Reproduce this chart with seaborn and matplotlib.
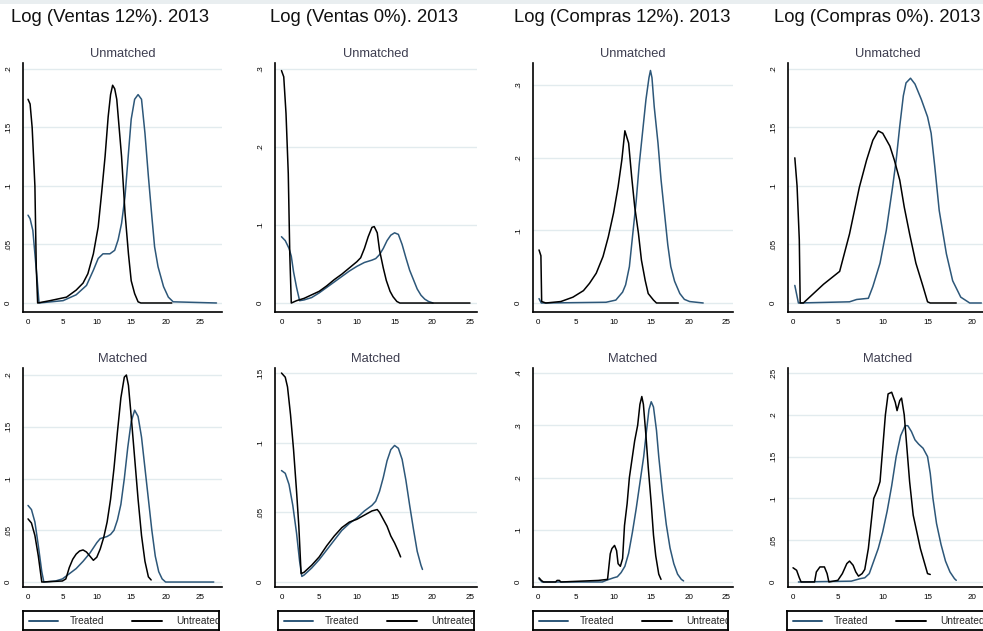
import matplotlib
matplotlib.use("Agg")
import matplotlib.pyplot as plt
import seaborn as sns
from matplotlib.patches import Rectangle
from matplotlib.lines import Line2D

# ---------------------------------------------------------------- data
col_titles = ["Log (Ventas 12%). 2013", "Log (Ventas 0%). 2013",
              "Log (Compras 12%). 2013", "Log (Compras 0%). 2013"]
row_titles = ["Unmatched", "Matched"]
legend_labels = ["Treated", "Untreated"]

x_ticks = [[0, 5, 10, 15, 20, 25], [0, 5, 10, 15, 20, 25],
           [0, 5, 10, 15, 20, 25], [0, 5, 10, 15, 20]]
y_ticks_unmatched = [[0, .05, .1, .15, .2], [0, .1, .2, .3],
                     [0, .1, .2, .3], [0, .05, .1, .15, .2]]
y_ticks_matched = [[0, .05, .1, .15, .2], [0, .05, .1, .15],
                   [0, .1, .2, .3, .4], [0, .05, .1, .15, .2, .25]]

# Ventas 12%, unmatched
v12_u_treated_x = [0, 0.3, 0.7, 1.0, 1.3, 1.6, 5.1, 7.0, 8.5, 9.5, 10.2, 10.9, 11.9, 12.6, 13.1,
                   13.6, 14.1, 14.6, 15.0, 15.5, 16.0, 16.5, 17.0, 17.5, 18.0, 18.4, 18.9, 19.7,
                   20.4, 21.1, 27.4]
v12_u_treated_y = [0.075, 0.072, 0.062, 0.042, 0.022, 0.0, 0.002, 0.007, 0.015, 0.028, 0.038, 0.042,
                   0.042, 0.045, 0.054, 0.068, 0.091, 0.128, 0.157, 0.174, 0.178, 0.174, 0.145,
                   0.108, 0.074, 0.048, 0.031, 0.014, 0.005, 0.001, 0.0]
v12_u_untreated_x = [0, 0.3, 0.6, 1.0, 1.2, 1.4, 3.2, 5.6, 7.0, 8.0, 8.7, 9.5, 10.2, 10.7, 11.2,
                     11.65, 12.0, 12.3, 12.6, 12.9, 13.4, 13.6, 14.1, 14.6, 15.0, 15.5, 16.0, 16.4,
                     20.9]
v12_u_untreated_y = [0.174, 0.17, 0.15, 0.10, 0.03, 0.0, 0.002, 0.005, 0.011, 0.017, 0.025, 0.042,
                     0.065, 0.094, 0.125, 0.159, 0.178, 0.186, 0.183, 0.174, 0.139, 0.125, 0.077,
                     0.042, 0.019, 0.008, 0.001, 0.0, 0.0]

# Ventas 0%, unmatched
v0_u_treated_x = [0, 0.5, 1.0, 1.3, 1.6, 2.0, 2.4, 3, 4, 5, 6, 7, 8, 9, 10, 11, 12, 12.5, 13, 13.5,
                  14, 14.5, 15, 15.5, 16, 16.5, 17, 17.5, 18, 18.5, 19, 19.5, 20.1]
v0_u_treated_y = [0.085, 0.08, 0.07, 0.06, 0.04, 0.02, 0.003, 0.004, 0.007, 0.013, 0.02, 0.027,
                  0.034, 0.041, 0.047, 0.052, 0.055, 0.057, 0.062, 0.07, 0.08, 0.087, 0.09, 0.088,
                  0.075, 0.058, 0.042, 0.03, 0.018, 0.01, 0.005, 0.002, 0.0]
v0_u_untreated_x = [0, 0.3, 0.6, 0.9, 1.1, 1.3, 2, 3, 5, 6, 7, 8, 9, 10, 10.5, 11, 11.5, 12, 12.3,
                    12.7, 13.0, 13.5, 13.9, 14.4, 14.8, 15.3, 15.7, 25.0]
v0_u_untreated_y = [0.298, 0.29, 0.243, 0.166, 0.063, 0.0, 0.003, 0.006, 0.015, 0.022, 0.03, 0.037,
                    0.045, 0.053, 0.058, 0.07, 0.085, 0.097, 0.098, 0.09, 0.068, 0.045, 0.029,
                    0.015, 0.008, 0.002, 0.0, 0.0]

# Compras 12%, unmatched
c12_u_treated_x = [0.1, 0.4, 1, 9.0, 10.3, 11.2, 11.6, 12.1, 12.5, 13.0, 13.4, 13.9, 14.3, 14.7,
                   14.9, 15.1, 15.4, 15.9, 16.3, 16.8, 17.2, 17.6, 18.1, 18.8, 19.4, 20.1, 21.9]
c12_u_treated_y = [0.006, 0.0, 0.0, 0.001, 0.004, 0.015, 0.025, 0.05, 0.09, 0.14, 0.19, 0.24, 0.28,
                   0.31, 0.32, 0.31, 0.27, 0.22, 0.17, 0.12, 0.08, 0.05, 0.03, 0.013, 0.005, 0.002,
                   0.0]
c12_u_untreated_x = [0.1, 0.35, 0.45, 1.0, 3.0, 4.6, 6.0, 6.8, 7.7, 8.6, 9.3, 10.0, 10.6, 11.1, 11.5,
                     12.0, 12.4, 12.8, 13.3, 13.7, 14.2, 14.6, 15.3, 15.7, 18.6]
c12_u_untreated_y = [0.073, 0.065, 0.002, 0.0, 0.002, 0.008, 0.017, 0.027, 0.041, 0.064, 0.091,
                     0.124, 0.16, 0.197, 0.237, 0.22, 0.174, 0.133, 0.096, 0.059, 0.031, 0.013,
                     0.004, 0.0, 0.0]

# Compras 0%, unmatched
c0_u_treated_x = [0.2, 0.6, 6.3, 7.1, 8.4, 8.9, 9.7, 10.4, 11.1, 11.5, 11.9, 12.3, 12.6, 13.1, 13.6,
                  14.3, 15.0, 15.4, 15.8, 16.3, 17.1, 17.8, 18.7, 19.7, 21.0]
c0_u_treated_y = [0.015, 0.0, 0.001, 0.003, 0.004, 0.014, 0.034, 0.062, 0.099, 0.122, 0.151, 0.177,
                  0.188, 0.192, 0.187, 0.174, 0.159, 0.145, 0.117, 0.079, 0.042, 0.019, 0.005, 0.0,
                  0.0]
c0_u_untreated_x = [0.2, 0.45, 0.7, 0.8, 1.15, 3.4, 5.2, 6.3, 7.4, 8.2, 8.9, 9.5, 10.0, 10.8, 11.3,
                    11.9, 12.4, 13.0, 13.7, 14.5, 15.0, 15.3, 18.2]
c0_u_untreated_y = [0.124, 0.1, 0.054, 0.0, 0.0, 0.016, 0.027, 0.059, 0.099, 0.122, 0.139, 0.147,
                    0.145, 0.134, 0.122, 0.105, 0.082, 0.059, 0.034, 0.014, 0.001, 0.0, 0.0]

# Ventas 12%, matched
v12_m_treated_x = [0, 0.5, 1.0, 1.5, 2.0, 2.3, 4, 5, 6, 7, 8, 9, 10, 10.5, 11, 11.5, 12, 12.5, 13,
                   13.5, 14, 14.5, 15, 15.5, 16, 16.5, 17, 17.5, 18, 18.5, 19, 19.5, 20, 27]
v12_m_treated_y = [0.074, 0.07, 0.058, 0.035, 0.01, 0.0, 0.001, 0.003, 0.008, 0.013, 0.02, 0.028,
                   0.038, 0.042, 0.043, 0.044, 0.046, 0.05, 0.06, 0.075, 0.1, 0.13, 0.155, 0.166,
                   0.16, 0.14, 0.11, 0.08, 0.05, 0.025, 0.01, 0.003, 0.0, 0.0]
v12_m_untreated_x = [0, 0.5, 1.0, 1.5, 2.0, 5.0, 5.5, 6.0, 6.5, 7.0, 7.5, 8.0, 8.5, 9.0, 9.5, 10.0,
                     10.5, 11.0, 11.5, 12.0, 12.5, 13.0, 13.5, 14.0, 14.3, 14.6, 15.0, 15.5, 16.0,
                     16.5, 17.0, 17.5, 17.9]
v12_m_untreated_y = [0.061, 0.057, 0.045, 0.025, 0.0, 0.001, 0.003, 0.014, 0.022, 0.027, 0.03,
                     0.031, 0.029, 0.025, 0.021, 0.024, 0.032, 0.043, 0.058, 0.08, 0.11, 0.145,
                     0.178, 0.198, 0.2, 0.19, 0.16, 0.12, 0.08, 0.045, 0.02, 0.005, 0.002]

# Ventas 0%, matched
v0_m_treated_x = [0, 0.5, 1.0, 1.5, 2.0, 2.4, 2.7, 3, 4, 5, 6, 7, 8, 9, 10, 11, 12, 12.5, 13, 13.5,
                  14, 14.5, 15, 15.5, 16, 16.5, 17, 17.5, 18, 18.5, 18.7]
v0_m_treated_y = [0.08, 0.078, 0.07, 0.055, 0.035, 0.015, 0.004, 0.005, 0.01, 0.016, 0.023, 0.03,
                  0.037, 0.042, 0.046, 0.051, 0.055, 0.058, 0.065, 0.075, 0.087, 0.095, 0.098,
                  0.096, 0.088, 0.073, 0.055, 0.038, 0.022, 0.012, 0.009]
v0_m_untreated_x = [0, 0.5, 0.8, 1.2, 1.6, 2.0, 2.3, 2.6, 3, 4, 5, 6, 7, 8, 9, 10, 11, 12, 12.7, 13,
                    13.5, 14, 14.5, 15, 15.5, 15.8]
v0_m_untreated_y = [0.15, 0.147, 0.14, 0.12, 0.095, 0.065, 0.04, 0.006, 0.007, 0.012, 0.018, 0.026,
                    0.033, 0.039, 0.043, 0.045, 0.048, 0.051, 0.052, 0.05, 0.045, 0.04, 0.033,
                    0.028, 0.022, 0.018]

# Compras 12%, matched
c12_m_treated_x = [0.1, 0.5, 8.5, 9, 10, 10.5, 11, 11.5, 12, 12.5, 13, 13.5, 14, 14.3, 14.7, 15.0,
                   15.3, 15.7, 16, 16.5, 17, 17.5, 18, 18.5, 19, 19.3]
c12_m_treated_y = [0.006, 0.0, 0.0, 0.003, 0.008, 0.01, 0.018, 0.03, 0.055, 0.095, 0.14, 0.19, 0.24,
                   0.28, 0.33, 0.345, 0.335, 0.29, 0.24, 0.17, 0.11, 0.065, 0.035, 0.015, 0.005,
                   0.002]
c12_m_untreated_x = [0.1, 0.4, 0.7, 2.3, 2.5, 2.8, 3.0, 8.0, 9.2, 9.56, 9.78, 10.13, 10.4, 10.6,
                     10.9, 11.2, 11.45, 11.8, 12.1, 12.5, 12.8, 13.2, 13.5, 13.75, 13.96, 14.3,
                     14.6, 15.0, 15.3, 15.6, 16.0, 16.3]
c12_m_untreated_y = [0.008, 0.003, 0.0, 0.0, 0.003, 0.003, 0.0, 0.003, 0.005, 0.054, 0.064, 0.07,
                     0.06, 0.035, 0.03, 0.045, 0.108, 0.15, 0.2, 0.24, 0.27, 0.3, 0.34, 0.355, 0.34,
                     0.28, 0.22, 0.15, 0.09, 0.05, 0.015, 0.005]

# Compras 0%, matched
c0_m_treated_x = [0.6, 6.5, 7.5, 8.0, 8.5, 9.0, 9.5, 10, 10.5, 11, 11.5, 12, 12.5, 12.8, 13.2, 13.6,
                  14, 14.5, 15, 15.3, 15.6, 16, 16.5, 17, 17.5, 18, 18.2]
c0_m_treated_y = [0.0, 0.001, 0.004, 0.005, 0.01, 0.025, 0.04, 0.06, 0.085, 0.115, 0.15, 0.175,
                  0.187, 0.187, 0.18, 0.17, 0.165, 0.16, 0.15, 0.13, 0.1, 0.07, 0.045, 0.025, 0.012,
                  0.004, 0.002]
c0_m_untreated_x = [0, 0.4, 0.7, 0.9, 2.4, 2.6, 3.0, 3.5, 3.8, 4.0, 5.0, 5.5, 6.0, 6.3, 6.7, 7.0,
                    7.3, 7.7, 8.0, 8.4, 8.7, 9.0, 9.4, 9.7, 10.0, 10.3, 10.6, 11.0, 11.4, 11.6,
                    11.9, 12.1, 12.4, 12.7, 13.0, 13.4, 13.8, 14.2, 14.6, 15.0, 15.3]
c0_m_untreated_y = [0.017, 0.014, 0.005, 0.0, 0.0, 0.012, 0.018, 0.018, 0.01, 0.0, 0.002, 0.01,
                    0.022, 0.025, 0.02, 0.012, 0.007, 0.01, 0.015, 0.04, 0.07, 0.1, 0.11, 0.12,
                    0.16, 0.2, 0.225, 0.227, 0.215, 0.205, 0.217, 0.22, 0.2, 0.16, 0.12, 0.08,
                    0.06, 0.04, 0.025, 0.01, 0.009]

# ---------------------------------------------------------------- style
sns.set_theme(style="white")
plt.rcParams["font.family"] = ["Liberation Sans", "DejaVu Sans"]

W, H, DPI = 983, 631, 100
TREATED = "#2d5779"
UNTREATED = "#000000"
GRID = "#e2ebee"
SUBTITLE = "#3e3e50"

fig = plt.figure(figsize=(W / DPI, H / DPI), dpi=DPI)
fig.patch.set_facecolor("white")


def px_box(left, top, right, bottom):
    return [left / W, 1 - bottom / H, (right - left) / W, (bottom - top) / H]


col_px = [(23, 222), (275, 477), (533, 733), (788, 988)]
row_px = [(63, 312), (368, 587)]
xlims = [(-0.73, 28.2), (-0.86, 25.93), (-0.70, 25.86), (-0.56, 21.74)]
ylims = [[(-0.0077, 0.205), (-0.0115, 0.3077), (-0.0124, 0.3303), (-0.0077, 0.205)],
         [(-0.0048, 0.2068), (-0.0036, 0.1536), (-0.0096, 0.4096), (-0.006, 0.256)]]

curves = [
    [(v12_u_treated_x, v12_u_treated_y, v12_u_untreated_x, v12_u_untreated_y),
     (v0_u_treated_x, v0_u_treated_y, v0_u_untreated_x, v0_u_untreated_y),
     (c12_u_treated_x, c12_u_treated_y, c12_u_untreated_x, c12_u_untreated_y),
     (c0_u_treated_x, c0_u_treated_y, c0_u_untreated_x, c0_u_untreated_y)],
    [(v12_m_treated_x, v12_m_treated_y, v12_m_untreated_x, v12_m_untreated_y),
     (v0_m_treated_x, v0_m_treated_y, v0_m_untreated_x, v0_m_untreated_y),
     (c12_m_treated_x, c12_m_treated_y, c12_m_untreated_x, c12_m_untreated_y),
     (c0_m_treated_x, c0_m_treated_y, c0_m_untreated_x, c0_m_untreated_y)],
]
yticks_rows = [y_ticks_unmatched, y_ticks_matched]


def fmt(v):
    if v == 0:
        return "0"
    s = f"{v:g}"
    return s[1:] if s.startswith("0.") else s


for r in range(2):
    top, bottom = row_px[r]
    for c in range(4):
        left, right = col_px[c]
        ax = fig.add_axes(px_box(left, top, right, bottom))
        tx, ty, ux, uy = curves[r][c]
        sns.lineplot(x=tx, y=ty, ax=ax, color=TREATED, lw=1.1, estimator=None, sort=False)
        sns.lineplot(x=ux, y=uy, ax=ax, color=UNTREATED, lw=1.1, estimator=None, sort=False)
        ax.set_xlim(*xlims[c])
        ax.set_ylim(*ylims[r][c])
        yt = yticks_rows[r][c]
        ax.set_yticks(yt)
        ax.set_yticklabels([fmt(v) for v in yt], rotation=90, va="center", fontsize=5.8)
        ax.set_xticks(x_ticks[c])
        ax.set_xticklabels([str(v) for v in x_ticks[c]], fontsize=5.8)
        ax.yaxis.grid(True, color=GRID, lw=1.0)
        ax.xaxis.grid(False)
        ax.set_axisbelow(True)
        for s in ("top", "right"):
            ax.spines[s].set_visible(False)
        for s in ("left", "bottom"):
            ax.spines[s].set_color("black")
            ax.spines[s].set_linewidth(1.2)
        ax.tick_params(axis="both", which="major", length=3, width=0.9,
                       colors="black", direction="out", pad=2)
        ax.tick_params(axis="y", pad=5)
        ax.set_xlabel("")
        ax.set_ylabel("")
        # panel subtitle
        fig.text(((left + right) / 2) / W, 1 - (top - 9) / H, row_titles[r],
                 ha="center", va="center", fontsize=9.3, color=SUBTITLE)

# column titles
title_cx = [110, 364, 622, 877]
for c in range(4):
    fig.text(title_cx[c] / W, 1 - 18 / H, col_titles[c], ha="center", va="center",
             fontsize=13.3, color="#111111")

# thin tinted band along the top edge
fig.add_artist(Rectangle((0, 1 - 4 / H), 1, 4 / H, transform=fig.transFigure,
                         facecolor="#e9eef0", edgecolor="none"))

# legends under each column
leg_px = [(23, 219), (278, 474), (533, 728), (787, 990)]
for (l, r_) in leg_px:
    lax = fig.add_axes(px_box(l, 611, r_, 630))
    lax.set_xlim(0, r_ - l)
    lax.set_ylim(19, 0)
    lax.set_xticks([])
    lax.set_yticks([])
    for s in lax.spines.values():
        s.set_visible(True)
        s.set_color("black")
        s.set_linewidth(1.3)
    lax.set_facecolor("white")
    lax.add_line(Line2D([6, 35], [9.5, 9.5], color=TREATED, lw=1.4))
    lax.text(47, 9.5, legend_labels[0], va="center", ha="left", fontsize=7.3, clip_on=True)
    lax.add_line(Line2D([109, 139], [9.5, 9.5], color=UNTREATED, lw=1.4))
    lax.text(153, 9.5, legend_labels[1], va="center", ha="left", fontsize=7.3, clip_on=True)

fig.savefig("out.png", dpi=DPI)
